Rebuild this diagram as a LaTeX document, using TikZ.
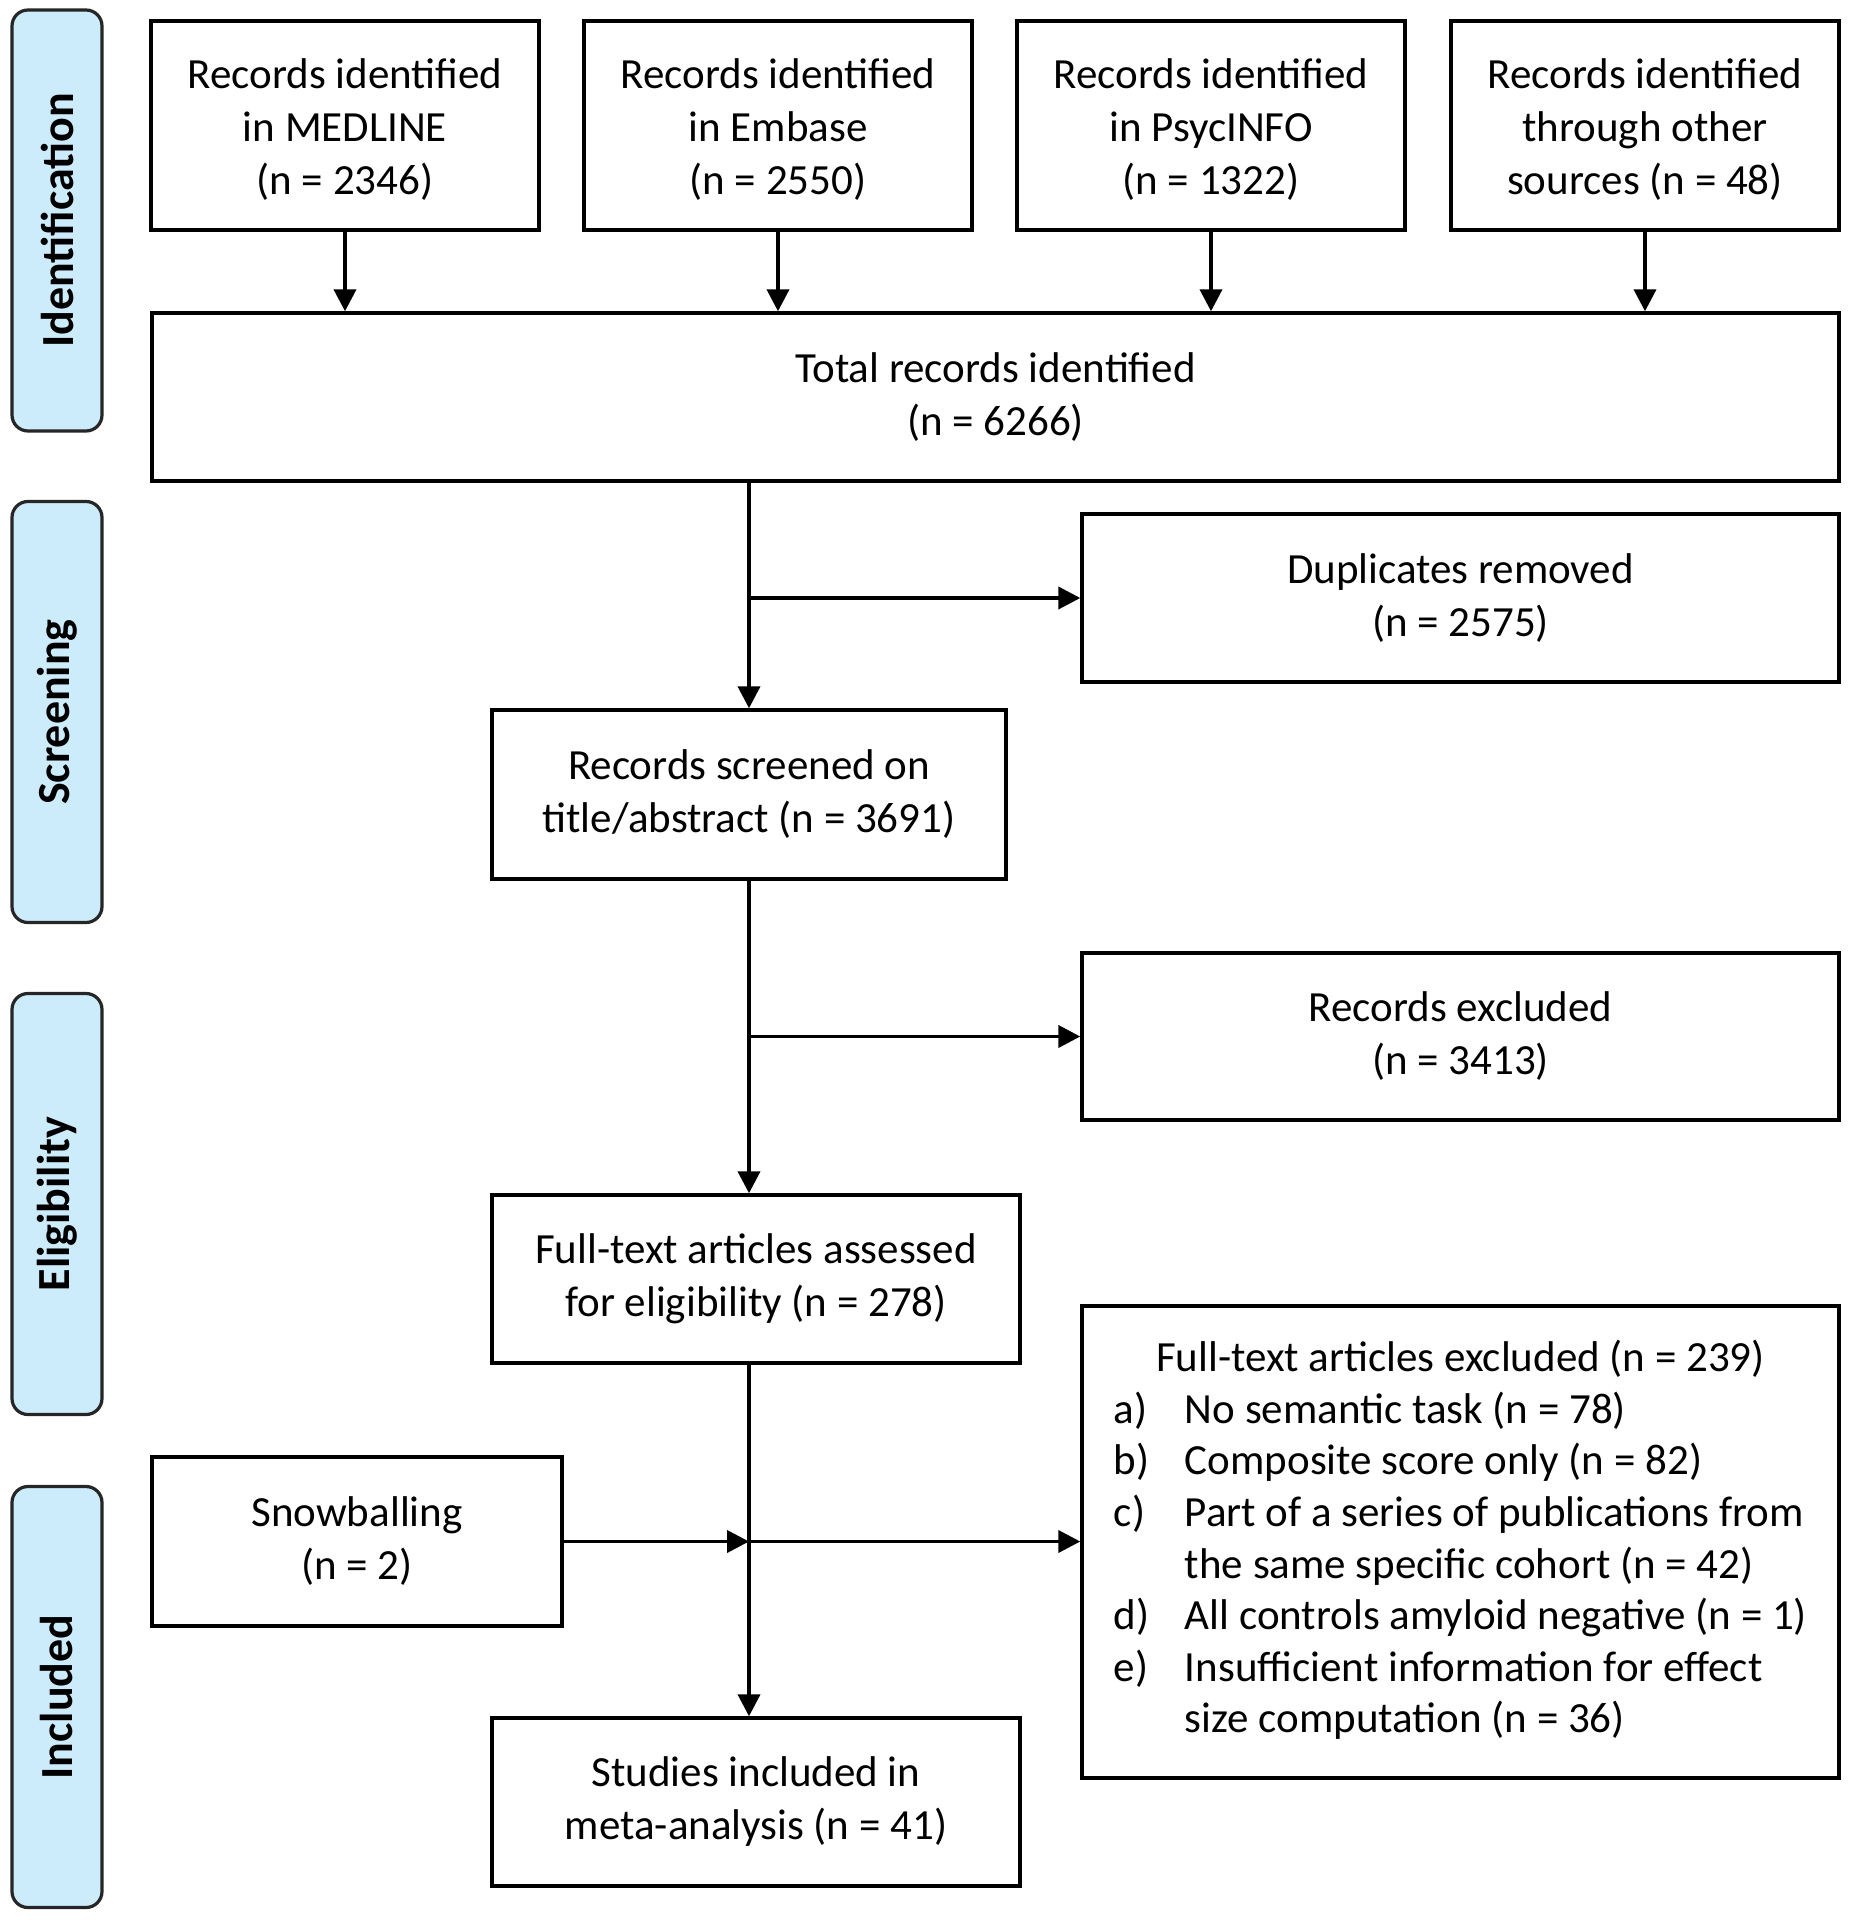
\documentclass[tikz,border=0pt]{standalone}
\usepackage{fontspec}
\setmainfont{Carlito}
\usetikzlibrary{arrows.meta}
\definecolor{sidebg}{RGB}{204,235,251}
\newcommand{\lowtext}[1]{\raisebox{-2.5pt}[\height][\depth]{\begin{tabular}{@{}c@{}}#1\end{tabular}}}
\begin{document}
\begin{tikzpicture}[x=0.5pt,y=-0.5pt,
  box/.style={draw=black, line width=1.7pt, fill=white, align=center, inner sep=0pt,
    font=\fontsize{21.5}{26.5}\selectfont},
  side/.style={draw=black!85, line width=1.6pt, fill=sidebg, rounded corners=8pt,
    rotate=90, minimum width=210.5pt, minimum height=45pt, inner sep=0pt,
    font=\fontsize{23}{27}\selectfont\bfseries},
  arr/.style={line width=1.9pt, -{Triangle[length=11pt,width=11pt]}}]
\useasboundingbox (0,0) rectangle (1855,1920);
% side labels
\node[side] (sid) at (57,220.5) {Identification};
\node[side] (sscr) at (57,712) {Screening};
\node[side] (selig) at (57,1204) {Eligibility};
\node[side] (sinc) at (57,1697) {Included};
% top boxes
\node[box, minimum width=194pt, minimum height=104.5pt] (m1) at (345,125.5) {\lowtext{Records identified\\in MEDLINE\\(n = 2346)}};
\node[box, minimum width=194pt, minimum height=104.5pt] (m2) at (778,125.5) {\lowtext{Records identified\\in Embase\\(n = 2550)}};
\node[box, minimum width=194pt, minimum height=104.5pt] (m3) at (1211,125.5) {\lowtext{Records identified\\in PsycINFO\\(n = 1322)}};
\node[box, minimum width=194pt, minimum height=104.5pt] (m4) at (1645,125.5) {\lowtext{Records identified\\through other\\sources (n = 48)}};
\node[box, minimum width=843.5pt, minimum height=84pt] (total) at (995.5,397) {Total records identified\\(n = 6266)};
\node[box, minimum width=378.5pt, minimum height=84pt] (dup) at (1460.5,598) {Duplicates removed\\(n = 2575)};
\node[box, minimum width=257pt, minimum height=84.5pt] (scr) at (749,794.5) {Records screened on\\title/abstract (n = 3691)};
\node[box, minimum width=378.5pt, minimum height=83.5pt] (rex) at (1460.5,1036.5) {Records excluded\\(n = 3413)};
\node[box, minimum width=264pt, minimum height=84pt] (ass) at (756,1279) {Full-text articles assessed\\for eligibility (n = 278)};
\node[box, minimum width=378.5pt, minimum height=236pt, font=\fontsize{21.5}{25.8}\selectfont] (fex) at (1460.5,1542) {%
  \begin{tabular}{@{}l@{}l@{}}
  \multicolumn{2}{c}{Full-text articles excluded (n = 239)}\\
  \makebox[35.5pt][l]{a)} & No semantic task (n = 78)\\
  \makebox[35.5pt][l]{b)} & Composite score only (n = 82)\\
  \makebox[35.5pt][l]{c)} & Part of a series of publications from\\
   & the same specific cohort (n = 42)\\
  \makebox[35.5pt][l]{d)} & All controls amyloid negative (n = 1)\\
  \makebox[35.5pt][l]{e)} & Insufficient information for effect\\
   & size computation (n = 36)
  \end{tabular}};
\node[box, minimum width=205pt, minimum height=84.5pt] (snow) at (357,1541.5) {Snowballing\\(n = 2)};
\node[box, minimum width=264pt, minimum height=84pt] (stu) at (756,1802) {Studies included in\\meta-analysis (n = 41)};
% connectors
\foreach \m in {m1,m2,m3,m4}
  \draw[arr] (\m.south) -- (\m.south |- total.north);
\coordinate (j1) at (scr.north |- dup.west);
\coordinate (j2) at (scr.south |- rex.west);
\coordinate (j3) at (scr.south |- snow.east);
\coordinate (a1) at (scr.south |- ass.south);
\draw[arr] (scr.north |- total.south) -- (scr.north);
\draw[arr] (j1) -- (dup.west);
\draw[arr] (scr.south) -- (scr.south |- ass.north);
\draw[arr] (j2) -- (rex.west);
\draw[arr] (a1) -- (a1 |- stu.north);
\draw[arr] (snow.east) -- (j3);
\draw[arr] (j3) -- (j3 -| fex.west);
\end{tikzpicture}
\end{document}
